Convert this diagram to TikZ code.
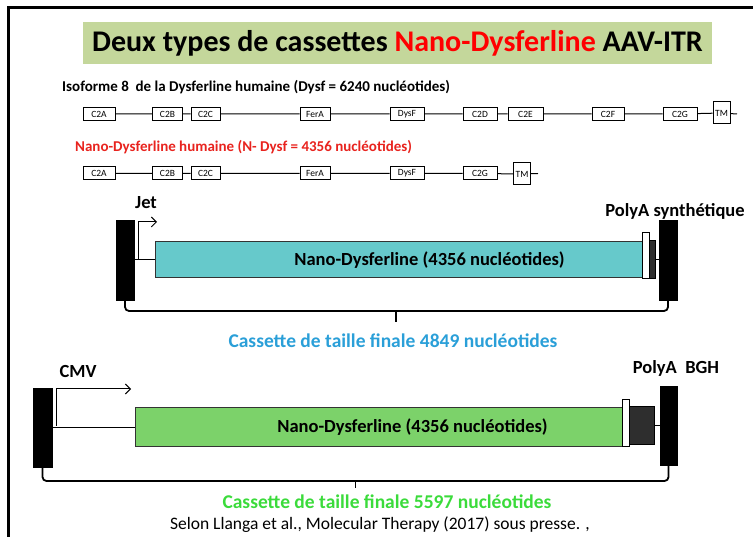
\documentclass[tikz,border=0pt]{standalone}
\usepackage{fontspec}
\setmainfont{Carlito}
\usetikzlibrary{arrows.meta}
\definecolor{titlegreen}{HTML}{C4D79B}
\definecolor{titlered}{HTML}{FF0000}
\definecolor{subred}{HTML}{E8231E}
\definecolor{tealbox}{HTML}{66C9CB}
\definecolor{greenbox}{HTML}{7CD26A}
\definecolor{bluetxt}{HTML}{2A9FD8}
\definecolor{greentxt}{HTML}{3BDB3B}
\definecolor{darkpa}{HTML}{2E2E2E}
\begin{document}
\begin{tikzpicture}[x=1pt,y=-1pt,
  dom/.style={draw=black, line width=1pt, fill=white, inner sep=0pt, minimum height=13pt, font=\fontsize{9.5}{10}\selectfont},
  tm/.style={dom, minimum width=17pt, minimum height=22pt},
  conn/.style={line width=1pt},
  itr/.style={draw=black, fill=black, inner sep=0pt},
  genebox/.style={draw=black!80, line width=1pt, inner sep=0pt},
  smallw/.style={draw=black, line width=1pt, fill=white, inner sep=0pt},
  darkbox/.style={draw=black, line width=1pt, fill=darkpa, inner sep=0pt},
  lbl/.style={inner sep=0pt, font=\fontsize{18.5}{21}\selectfont\bfseries},
  bracket/.style={line width=1.8pt, rounded corners=4pt},
  prom/.style={line width=1pt, -{Straight Barb[length=5pt,width=10pt,line width=1pt]}}
]
\useasboundingbox (0,0) rectangle (753,537);
% frame
\draw[line width=3pt] (8,545) -- (8,8) -- (760,8);
% title
\node[fill=titlegreen, minimum width=629pt, minimum height=42pt, inner sep=0pt,
      font=\fontsize{30}{34}\selectfont\bfseries] (title) at (397.5,43)
  {Deux types de cassettes \textcolor{titlered}{Nano-Dysferline} AAV-ITR};
% subtitles
\node[anchor=west, inner sep=0pt, font=\fontsize{15}{17}\selectfont\bfseries] (sub1) at (62,87)
  {Isoforme 8\ \ de la Dysferline humaine (Dysf = 6240 nucléotides)};
\node[anchor=west, inner sep=0pt, text=subred, font=\fontsize{15}{17}\selectfont\bfseries] (sub2) at (75,147)
  {Nano-Dysferline humaine (N- Dysf = 4356 nucléotides)};
% row 1
\node[dom, minimum width=32pt] (a1) at (99,114) {C2A};
\node[dom, minimum width=30pt] (b1) at (167.5,114) {C2B};
\node[dom, minimum width=29pt] (c1) at (205.5,114) {C2C};
\node[dom, minimum width=30pt] (f1) at (315,114) {FerA};
\node[dom, minimum width=34pt] (d1) at (407,114) {DysF};
\node[dom, minimum width=34pt] (e1) at (480,114) {C2D};
\node[dom, minimum width=35pt] (g1) at (525.5,114) {C2E};
\node[dom, minimum width=32pt] (h1) at (608,114) {C2F};
\node[dom, minimum width=34pt] (k1) at (680,114) {C2G};
\node[tm] (t1) at (721.5,113) {TM};
\coordinate (end1) at (737,114);
\draw[conn] (a1) -- (b1) -- (c1) -- (f1) -- (d1) -- (e1) -- (g1) -- (h1) -- (k1) -- (t1) -- (end1);
% row 2
\node[dom, minimum width=32pt] (a2) at (99,173.5) {C2A};
\node[dom, minimum width=30pt] (b2) at (167.5,173.5) {C2B};
\node[dom, minimum width=29pt] (c2) at (205.5,173.5) {C2C};
\node[dom, minimum width=30pt] (f2) at (315,173.5) {FerA};
\node[dom, minimum width=34pt] (d2) at (407,173.5) {DysF};
\node[dom, minimum width=34pt] (k2) at (480,173.5) {C2G};
\node[tm] (t2) at (522,174) {TM};
\coordinate (end2) at (538,173.5);
\draw[conn] (a2) -- (b2) -- (c2) -- (f2) -- (d2) -- (k2) -- (t2) -- (end2);
% cassette 1
\node[itr, minimum width=18pt, minimum height=80pt] (itrL1) at (125,260) {};
\node[genebox, fill=tealbox, minimum width=487pt, minimum height=36pt] (gene1) at (398.5,260) {};
\node[lbl] (gene1t) at ([xshift=31pt]gene1.center) {Nano-Dysferline (4356 nucléotides)};
\node[smallw, minimum width=7pt, minimum height=46pt] (w1) at (645.5,256) {};
\node[darkbox, minimum width=6pt, minimum height=38pt] (pa1) at (652,260) {};
\node[itr, minimum width=18pt, minimum height=80pt] (itrR1) at (668,260) {};
\draw[conn] (itrL1.east) -- (gene1.west);
\draw[conn] (pa1.east) -- (itrR1.west);
\coordinate (p1) at (138,260);
\coordinate (p1e) at (157,222);
\draw[prom] (p1) |- (p1e);
\node[lbl] (jet) at (146,203) {Jet};
\node[lbl] (polyA1) at (675,211) {PolyA synthétique};
\coordinate (m1) at (396,311);
\draw[bracket] (itrL1.south) |- (m1) -| (itrR1.south);
\draw[line width=1.8pt] (m1) -- ++(0,11);
\node[lbl, text=bluetxt, font=\fontsize{19.5}{22}\selectfont\bfseries] (cap1) at (393,341) {Cassette de taille finale 4849 nucléotides};
% cassette 2
\node[itr, minimum width=19pt, minimum height=79pt] (itrL2) at (42.5,427.5) {};
\node[genebox, fill=greenbox, minimum width=487pt, minimum height=39pt] (gene2) at (378.5,427.5) {};
\node[lbl] (gene2t) at ([xshift=34pt]gene2.center) {Nano-Dysferline (4356 nucléotides)};
\node[smallw, minimum width=7pt, minimum height=47pt] (w2) at (625.5,423.5) {};
\node[darkbox, minimum width=25pt, minimum height=38pt] (pa2) at (641.5,426) {};
\node[itr, minimum width=17pt, minimum height=79pt] (itrR2) at (668.5,425.5) {};
\draw[conn] (itrL2.east |- gene2.west) -- (gene2.west);
\draw[conn] (pa2.east) -- (itrR2.west |- pa2.east);
\coordinate (p2) at (56,426);
\coordinate (p2e) at (131,389);
\draw[prom] (p2) |- (p2e);
\node[lbl] (cmv) at (78,371) {CMV};
\node[lbl] (polyA2) at (676,368) {PolyA\ \ BGH};
\coordinate (m2) at (355.5,481);
\draw[bracket] (itrL2.south) |- (m2) -| (itrR2.south);
\draw[line width=1.8pt] (m2) -- ++(0,7);
\node[lbl, text=greentxt, font=\fontsize{19.5}{22}\selectfont\bfseries] (cap2) at (387,502) {Cassette de taille finale 5597 nucléotides};
\node[inner sep=0pt, font=\fontsize{17.5}{20}\selectfont] (cite) at (380,525) {Selon Llanga et al., Molecular Therapy (2017) sous presse. ,};
\end{tikzpicture}
\end{document}
